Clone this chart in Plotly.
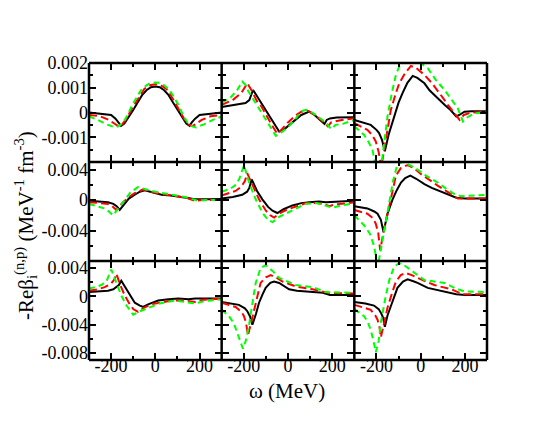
import plotly.graph_objects as go
from plotly.subplots import make_subplots

# ---------------- data (omega in MeV, values in MeV^-1 fm^-3) ----------------
# Row 1, col 1
w11_k = [-300, -250, -200, -180, -165, -155, -140, -120, -100, -80, -60, -40, -20, 0, 20, 40, 60, 80, 100, 120, 140, 155, 165, 180, 200, 250, 300]
y11_k = [0.0, -0.00005, -0.0001, -0.00025, -0.0004, -0.00054, -0.00045, -0.0002, 0.0001, 0.0004, 0.0007, 0.0009, 0.00102, 0.00105, 0.00102, 0.0009, 0.0007, 0.0004, 0.0001, -0.0002, -0.00045, -0.00054, -0.0004, -0.00025, -0.0001, -0.00005, 0.0]
w11_r = [-300, -250, -210, -185, -168, -150, -130, -110, -90, -70, -50, -25, 0, 25, 50, 70, 90, 110, 130, 150, 168, 185, 210, 250, 300]
y11_r = [-0.0001, -0.00015, -0.0003, -0.00045, -0.00055, -0.00048, -0.00025, 0.0001, 0.0004, 0.0007, 0.00095, 0.0011, 0.00114, 0.0011, 0.00095, 0.0007, 0.0004, 0.0001, -0.00025, -0.00048, -0.00055, -0.00045, -0.0003, -0.00015, -0.0001]
w11_g = [-300, -260, -220, -184, -165, -145, -125, -105, -85, -65, -40, -20, 0, 20, 40, 65, 85, 105, 125, 145, 165, 184, 220, 260, 300]
y11_g = [-0.00016, -0.0003, -0.00048, -0.0006, -0.00055, -0.0004, -0.0001, 0.0003, 0.0006, 0.0009, 0.0011, 0.0012, 0.00121, 0.0012, 0.0011, 0.0009, 0.0006, 0.0003, -0.0001, -0.0004, -0.00055, -0.0006, -0.00048, -0.0003, -0.00016]

# Row 1, col 2
w12_k = [-300, -250, -192, -175, -165, -158, -140, -120, -100, -80, -60, -40, -20, 0, 30, 60, 96, 120, 145, 165, 175, 190, 220, 300]
y12_k = [0.00022, 0.0003, 0.00038, 0.0005, 0.0007, 0.00091, 0.00066, 0.00038, 0.0001, -0.00019, -0.00048, -0.00077, -0.0007, -0.00055, -0.0003, -0.0001, 0.00004, -0.0001, -0.0003, -0.00046, -0.0003, -0.00024, -0.0002, -0.00019]
w12_r = [-300, -250, -210, -195, -184, -165, -140, -120, -100, -80, -60, -48, -30, 0, 30, 60, 89, 120, 150, 180, 195, 232, 300]
y12_r = [0.00031, 0.0005, 0.0008, 0.001, 0.00118, 0.0009, 0.00045, 0.00024, -0.0001, -0.0004, -0.0007, -0.00086, -0.0007, -0.0004, -0.00015, 0.00003, 0.00007, -0.0001, -0.0003, -0.00056, -0.0004, -0.00032, -0.00023]
w12_g = [-300, -260, -230, -207, -190, -180, -160, -140, -120, -100, -80, -55, -30, 0, 30, 60, 81, 110, 140, 170, 195, 215, 248, 300]
y12_g = [0.0004, 0.0006, 0.0009, 0.00125, 0.0011, 0.00087, 0.00058, 0.00028, 0.0, -0.0003, -0.0006, -0.00094, -0.0008, -0.0006, -0.0003, 0.00005, 0.00011, 0.0, -0.0002, -0.0004, -0.00067, -0.0005, -0.00046, -0.0003]

# Row 1, col 3
w13_k = [-300, -260, -226, -200, -188, -175, -162, -145, -120, -100, -82, -60, -36, -15, 17, 40, 62, 85, 108, 135, 161, 175, 198, 230, 300]
y13_k = [-0.0003, -0.0004, -0.0005, -0.0007, -0.00083, -0.0011, -0.00157, -0.0009, -0.00016, 0.0004, 0.00078, 0.0012, 0.00148, 0.0014, 0.00118, 0.0009, 0.00071, 0.0005, 0.00031, 0.0001, -0.00016, -0.0001, 0.00003, 0.00005, 0.00005]
w13_r = [-300, -241, -220, -203, -190, -178, -165, -150, -135, -115, -97, -70, -44, -20, 17, 50, 77, 100, 123, 150, 176, 195, 229, 300]
y13_r = [-0.00043, -0.0007, -0.0009, -0.00117, -0.0016, -0.0022, -0.0015, -0.0007, 0.0001, 0.0007, 0.00118, 0.0016, 0.00188, 0.0018, 0.00152, 0.0012, 0.00085, 0.0006, 0.00031, 0.0, -0.0003, -0.0001, 0.0, 0.00003]
w13_g = [-300, -256, -235, -218, -205, -195, -180, -165, -150, -130, -112, -90, -60, -30, 0, 32, 70, 108, 140, 168, 191, 210, 244, 300]
y13_g = [-0.00056, -0.0009, -0.0012, -0.0015, -0.0021, -0.0027, -0.0023, -0.0012, -0.00016, 0.0008, 0.00152, 0.002, 0.0022, 0.0021, 0.002, 0.00179, 0.0013, 0.00091, 0.0005, 0.00017, -0.00036, -0.0002, -0.00003, 0.0]

# Row 2, col 1
w21_k = [-300, -250, -214, -190, -175, -161, -140, -120, -93, -70, -48, -20, 28, 70, 104, 140, 172, 200, 240, 300]
y21_k = [-0.0001, -0.0002, -0.0003, -0.0005, -0.0008, -0.0013, -0.0005, 0.0002, 0.0007, 0.0011, 0.0013, 0.0011, 0.0007, 0.0006, 0.0005, 0.0003, 0.00013, 0.0001, 0.0001, 0.00013]
w21_r = [-300, -250, -214, -195, -176, -150, -120, -93, -55, -20, 28, 80, 104, 140, 180, 210, 300]
y21_r = [-0.00027, -0.0004, -0.0005, -0.0008, -0.0013, -0.0004, 0.0004, 0.0009, 0.0014, 0.0011, 0.0008, 0.0006, 0.0005, 0.0003, -0.0001, 0.0, 0.0]
w21_g = [-300, -260, -229, -210, -192, -170, -138, -110, -93, -78, -40, 0, 58, 134, 195, 230, 300]
y21_g = [-0.0005, -0.0008, -0.0011, -0.0015, -0.002, -0.0012, 0.0, 0.0011, 0.0014, 0.0017, 0.0014, 0.0011, 0.0008, 0.0004, -0.0001, 0.0, 0.0]

# Row 2, col 2
w22_k = [-300, -250, -207, -185, -175, -164, -140, -116, -90, -70, -48, -20, 20, 60, 96, 140, 172, 220, 300]
y22_k = [0.0002, 0.0004, 0.0007, 0.0011, 0.0016, 0.0027, 0.0012, 0.0001, -0.0009, -0.0014, -0.0017, -0.0012, -0.0007, -0.0004, -0.0003, -0.0002, -0.0003, -0.0002, -0.0001]
w22_r = [-300, -237, -210, -195, -184, -160, -131, -100, -80, -63, -30, 0, 36, 81, 130, 160, 187, 210, 240, 300]
y22_r = [0.0006, 0.0012, 0.0018, 0.0025, 0.0035, 0.0019, 0.0001, -0.0014, -0.002, -0.0023, -0.0016, -0.0012, -0.0008, -0.0004, -0.0004, -0.0005, -0.0008, -0.0006, -0.0005, -0.0003]
w22_g = [-300, -260, -240, -220, -199, -175, -146, -115, -90, -70, -40, 0, 40, 80, 130, 170, 202, 240, 300]
y22_g = [0.0011, 0.0015, 0.0019, 0.0028, 0.0046, 0.0022, 0.0001, -0.0017, -0.0026, -0.0029, -0.0022, -0.0016, -0.0011, -0.0005, -0.0004, -0.0007, -0.001, -0.0007, -0.0004]

# Row 2, col 3
w23_k = [-300, -241, -210, -195, -180, -168, -150, -127, -108, -89, -70, -47, -20, 17, 50, 92, 130, 161, 200, 300]
y23_k = [-0.0008, -0.0011, -0.0015, -0.0018, -0.0026, -0.0042, -0.0018, 0.0001, 0.0013, 0.0023, 0.0029, 0.0032, 0.0028, 0.0021, 0.0016, 0.0011, 0.0006, 0.0003, 0.0002, 0.0002]
w23_r = [-300, -241, -215, -203, -192, -183, -170, -150, -130, -112, -90, -59, -30, 2, 40, 77, 120, 168, 200, 300]
y23_r = [-0.0013, -0.0018, -0.0024, -0.0031, -0.0043, -0.0066, -0.0045, -0.002, 0.0008, 0.0032, 0.0042, 0.0046, 0.0042, 0.0034, 0.0026, 0.0019, 0.0011, 0.0002, 0.0002, 0.0002]
w23_g = [-300, -256, -230, -211, -200, -193, -180, -165, -150, -125, -105, -82, -50, -14, 30, 77, 115, 153, 183, 230, 300]
y23_g = [-0.002, -0.0033, -0.0044, -0.006, -0.0078, -0.0085, -0.0065, -0.004, -0.0016, 0.0025, 0.0047, 0.005, 0.0046, 0.004, 0.0031, 0.0023, 0.0015, 0.0008, 0.0005, 0.0006, 0.0007]

# Row 3, col 1
w31_k = [-300, -250, -214, -190, -176, -165, -154, -140, -123, -108, -93, -70, -55, -30, 13, 60, 104, 150, 180, 300]
y31_k = [0.0006, 0.0007, 0.0008, 0.001, 0.0013, 0.0016, 0.0022, 0.0015, 0.0006, -0.0002, -0.0009, -0.0013, -0.0015, -0.0011, -0.0006, -0.0004, -0.0003, -0.0004, -0.0003, -0.0003]
w31_r = [-300, -260, -229, -200, -185, -176, -160, -138, -118, -100, -78, -50, -17, 30, 74, 130, 160, 180, 210, 300]
y31_r = [0.0008, 0.001, 0.0013, 0.0018, 0.0024, 0.0032, 0.0017, 0.0001, -0.001, -0.0018, -0.0022, -0.0016, -0.0011, -0.0008, -0.0006, -0.0006, -0.0007, -0.0008, -0.0005, -0.0003]
w31_g = [-300, -270, -244, -220, -199, -180, -154, -130, -115, -100, -70, -32, 20, 89, 140, 180, 220, 300]
y31_g = [0.0011, 0.0013, 0.0016, 0.0022, 0.0038, 0.0023, 0.0001, -0.0013, -0.002, -0.0026, -0.0021, -0.0016, -0.001, -0.0006, -0.0008, -0.001, -0.0007, -0.0004]

# Row 3, col 2
w32_k = [-300, -222, -195, -184, -172, -161, -145, -131, -116, -101, -80, -63, -40, 5, 40, 81, 157, 190, 300]
y32_k = [-0.0008, -0.0012, -0.0017, -0.0021, -0.0028, -0.004, -0.0025, -0.0009, 0.0002, 0.0012, 0.0019, 0.0021, 0.0019, 0.001, 0.0008, 0.0007, 0.0005, 0.0002, 0.0002]
w32_r = [-300, -237, -210, -199, -190, -181, -168, -154, -140, -124, -100, -78, -50, -25, 36, 111, 180, 300]
y32_r = [-0.0009, -0.0015, -0.0022, -0.0028, -0.0037, -0.0055, -0.0039, -0.0021, -0.0001, 0.0019, 0.0027, 0.003, 0.0026, 0.0021, 0.0014, 0.001, 0.0005, 0.0004]
w32_g = [-300, -267, -245, -229, -215, -204, -190, -177, -160, -146, -124, -101, -70, -40, 36, 111, 172, 300]
y32_g = [-0.0019, -0.0028, -0.0038, -0.0051, -0.0065, -0.0074, -0.0062, -0.0042, -0.0008, 0.0019, 0.004, 0.0044, 0.0036, 0.0026, 0.0016, 0.0013, 0.0006, 0.0005]

# Row 3, col 3
w33_k = [-300, -250, -211, -190, -180, -170, -162, -150, -135, -120, -105, -80, -59, -30, -14, 32, 108, 161, 200, 300]
y33_k = [-0.0008, -0.001, -0.0013, -0.0018, -0.0023, -0.003, -0.0043, -0.0027, -0.0014, -0.0001, 0.0012, 0.0021, 0.0024, 0.0021, 0.0019, 0.0012, 0.0007, 0.0003, 0.0002, 0.0002]
w33_r = [-300, -226, -205, -195, -187, -180, -165, -150, -130, -112, -90, -67, -40, -14, 62, 138, 191, 300]
y33_r = [-0.0012, -0.0019, -0.0027, -0.0033, -0.0042, -0.0058, -0.0037, -0.0016, 0.0004, 0.0021, 0.003, 0.0033, 0.003, 0.0026, 0.0016, 0.001, 0.0003, 0.0003]
w33_g = [-300, -256, -240, -226, -212, -203, -190, -180, -160, -142, -120, -97, -70, -44, 17, 108, 160, 198, 300]
y33_g = [-0.0018, -0.0028, -0.0036, -0.0047, -0.0065, -0.0079, -0.0063, -0.0037, -0.0003, 0.0023, 0.0042, 0.0047, 0.0043, 0.0037, 0.0023, 0.0019, 0.0011, 0.0007, 0.0006]

x_ticks = [-200, 0, 200]
x_ticktext = ["-200", "0", "200"]
row_yranges = [[-0.002, 0.002], [-0.008, 0.005], [-0.009, 0.005]]
row_yticks = [[-0.001, 0.0, 0.001, 0.002], [-0.004, 0.0, 0.004], [-0.008, -0.004, 0.0, 0.004]]
row_yticktext = [["-0.001", "0", "0.001", "0.002"], ["-0.004", "0", "0.004"], ["-0.008", "-0.004", "0", "0.004"]]
row_yminor = [[-0.0015, -0.0005, 0.0005, 0.0015], [-0.006, -0.002, 0.002], [-0.006, -0.002, 0.002]]
y_title = "-Reβ<sub>i</sub><sup>(n,p)</sup> (MeV<sup>-1</sup> fm<sup>-3</sup>)"
x_title = "ω (MeV)"

panels = {
    (1, 1): [(w11_k, y11_k), (w11_r, y11_r), (w11_g, y11_g)],
    (1, 2): [(w12_k, y12_k), (w12_r, y12_r), (w12_g, y12_g)],
    (1, 3): [(w13_k, y13_k), (w13_r, y13_r), (w13_g, y13_g)],
    (2, 1): [(w21_k, y21_k), (w21_r, y21_r), (w21_g, y21_g)],
    (2, 2): [(w22_k, y22_k), (w22_r, y22_r), (w22_g, y22_g)],
    (2, 3): [(w23_k, y23_k), (w23_r, y23_r), (w23_g, y23_g)],
    (3, 1): [(w31_k, y31_k), (w31_r, y31_r), (w31_g, y31_g)],
    (3, 2): [(w32_k, y32_k), (w32_r, y32_r), (w32_g, y32_g)],
    (3, 3): [(w33_k, y33_k), (w33_r, y33_r), (w33_g, y33_g)],
}

styles = [
    dict(color="black", width=2, dash="solid"),
    dict(color="#ff0000", width=2, dash="8px,4px"),
    dict(color="#00ff00", width=2, dash="6px,4px"),
]

FONT = "Liberation Serif, Times New Roman, serif"

fig = make_subplots(rows=3, cols=3, horizontal_spacing=0, vertical_spacing=0)

for (r, c), series in panels.items():
    for (w, y), st in zip(series, styles):
        fig.add_trace(go.Scatter(x=w, y=y, mode="lines", line=st, showlegend=False,
                                 hoverinfo="skip"), row=r, col=c)
    fig.update_xaxes(row=r, col=c, range=[-300, 300], showgrid=False, zeroline=False,
                     automargin=False, showline=False, mirror="ticks",
                     ticks="inside", ticklen=7, tickwidth=2, tickcolor="black",
                     tickvals=x_ticks, ticktext=x_ticktext, ticklabelstandoff=-7,
                     minor=dict(tickvals=[-100, 100], ticks="inside", ticklen=4,
                                tickwidth=2, tickcolor="black", showgrid=False),
                     showticklabels=(r == 3),
                     tickfont=dict(family=FONT, size=18, color="black"))
    fig.update_yaxes(row=r, col=c, range=row_yranges[r - 1], showgrid=False, zeroline=False,
                     automargin=False, showline=False, mirror="ticks",
                     ticks="inside", ticklen=7, tickwidth=2, tickcolor="black",
                     tickvals=row_yticks[r - 1], ticktext=row_yticktext[r - 1],
                     minor=dict(tickvals=row_yminor[r - 1], ticks="inside", ticklen=4,
                                tickwidth=2, tickcolor="black", showgrid=False),
                     showticklabels=(c == 1),
                     tickfont=dict(family=FONT, size=18, color="black"))

# panel frame: one line per panel boundary (shared edges drawn once)
frame_pos = [0, 1 / 3, 2 / 3, 1]
for p in frame_pos:
    fig.add_shape(type="line", xref="paper", yref="paper", x0=p, x1=p, y0=0, y1=1,
                  line=dict(color="black", width=2.5), layer="above")
    fig.add_shape(type="line", xref="paper", yref="paper", x0=0, x1=1, y0=p, y1=p,
                  line=dict(color="black", width=2.5), layer="above")

L, R, T, B = 89, 63, 63, 65
W, H = 550, 425
pw, ph = W - L - R, H - T - B

fig.add_annotation(text=y_title, xref="paper", yref="paper",
                   x=(25 - L) / pw, y=(T + ph - 226) / ph, textangle=-90,
                   showarrow=False, xanchor="center", yanchor="middle",
                   font=dict(family=FONT, size=21, color="black"))
fig.add_annotation(text=x_title, xref="paper", yref="paper",
                   x=(287 - L) / pw, y=(T + ph - 391) / ph,
                   showarrow=False, xanchor="center", yanchor="middle",
                   font=dict(family=FONT, size=21, color="black"))

fig.update_layout(width=W, height=H, margin=dict(l=L, r=R, t=T, b=B),
                  plot_bgcolor="white", paper_bgcolor="white", showlegend=False)

fig.write_html("out.html", config={"displayModeBar": False},
               post_script="document.body.style.margin='0';document.body.style.padding='0';")
